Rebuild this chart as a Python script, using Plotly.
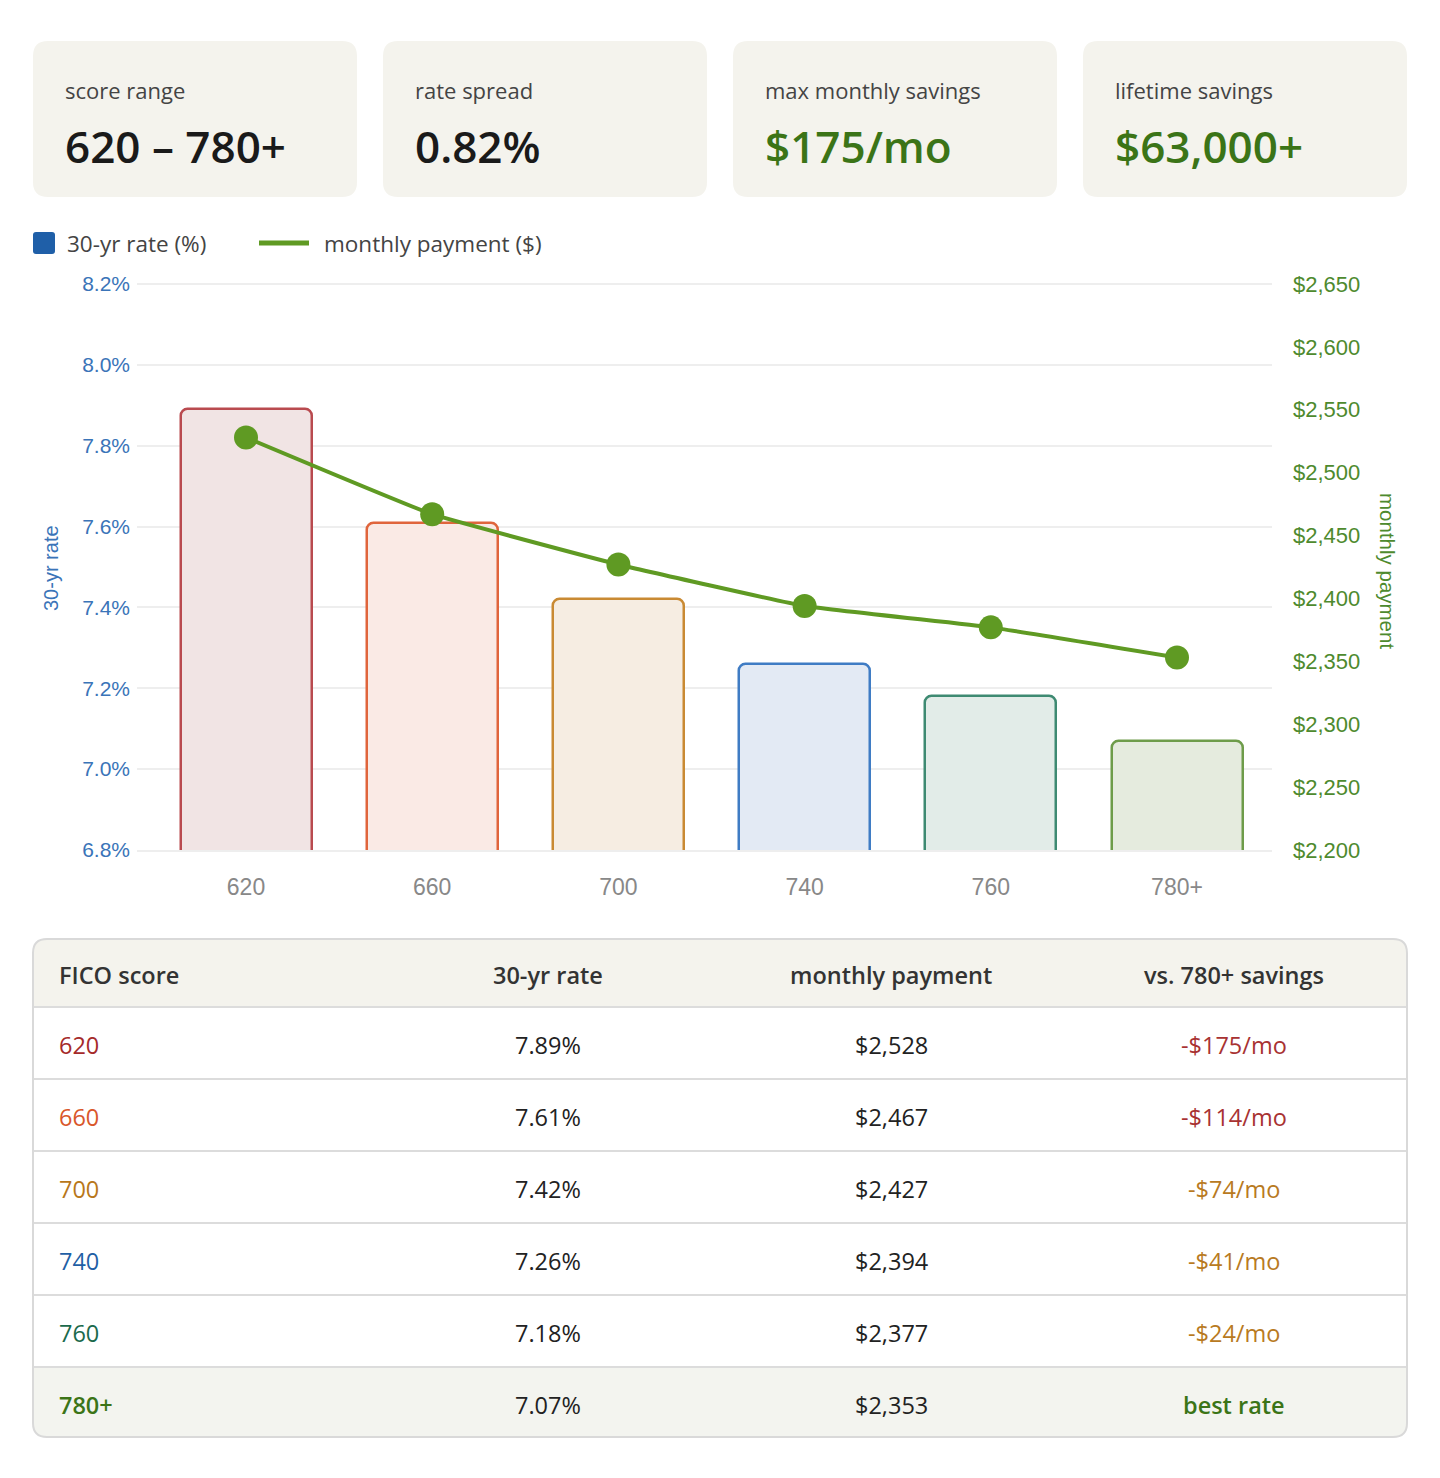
import plotly.graph_objects as go

W, H = 1440, 1478

# ---------------- data ----------------
scores = ["620", "660", "700", "740", "760", "780+"]
rates = [7.89, 7.61, 7.42, 7.26, 7.18, 7.07]
payments = [2528, 2467, 2427, 2394, 2377, 2353]
savings = ["-$175/mo", "-$114/mo", "-$74/mo", "-$41/mo", "-$24/mo", "best rate"]

rate_ticks = [6.8, 7.0, 7.2, 7.4, 7.6, 7.8, 8.0, 8.2]
pay_ticks = [2200, 2250, 2300, 2350, 2400, 2450, 2500, 2550, 2600, 2650]

card_labels = ["score range", "rate spread", "max monthly savings", "lifetime savings"]
card_values = ["620 – 780+", "0.82%", "$175/mo", "$63,000+"]

table_headers = ["FICO score", "30-yr rate", "monthly payment", "vs. 780+ savings"]

# ---------------- styles ----------------
bar_line_colors = ["#b94a4f", "#e0653c", "#c98a33", "#3f7cc4", "#3e8a72", "#6e9c4a"]
bar_fill_colors = ["#f1e4e4", "#faeae5", "#f6ede2", "#e3eaf4", "#e2ece8", "#e5ebde"]
score_text_colors = ["#a52a2a", "#d9572b", "#b8771a", "#1f5fa5", "#1b6a4c", "#3b7417"]
savings_colors = ["#a83232", "#a83232", "#b87a22", "#b87a22", "#b87a22", "#3b7417"]
card_value_colors = ["#1a1a1a", "#1a1a1a", "#3b7417", "#3b7417"]

UI_FONT = "Open Sans, Noto Sans, sans-serif"
CH_FONT = "Liberation Sans, Arial, sans-serif"
BLUE = "#3a74b8"
GREEN_AX = "#4e8a2e"
LINE_GREEN = "#5f9a23"
CARD_BG = "#f4f3ed"


def X(px):
    return px / W


def Y(py):
    return 1 - py / H


def rr_path(x0, y0, x1, y1, r, tl=True, tr=True, br=True, bl=True):
    """rounded rect path in pixel coordinates -> paper coordinates"""
    def p(x, y):
        return f"{X(x):.6f},{Y(y):.6f}"
    rtl = r if tl else 0
    rtr = r if tr else 0
    rbr = r if br else 0
    rbl = r if bl else 0
    d = f"M{p(x0 + rtl, y0)} L{p(x1 - rtr, y0)} "
    d += f"Q{p(x1, y0)} {p(x1, y0 + rtr)} " if rtr else ""
    d += f"L{p(x1, y1 - rbr)} "
    d += f"Q{p(x1, y1)} {p(x1 - rbr, y1)} " if rbr else ""
    d += f"L{p(x0 + rbl, y1)} "
    d += f"Q{p(x0, y1)} {p(x0, y1 - rbl)} " if rbl else ""
    d += f"L{p(x0, y0 + rtl)} "
    d += f"Q{p(x0, y0)} {p(x0 + rtl, y0)} " if rtl else ""
    d += "Z"
    return d


shapes = []
annotations = []


def text(px, py, s, size, color, anchor="left", weight=400, family=UI_FONT, angle=0):
    annotations.append(dict(
        x=X(px), y=Y(py), xref="paper", yref="paper", text=s, showarrow=False,
        xanchor=anchor, yanchor="middle", textangle=angle,
        font=dict(family=family, size=size, color=color, weight=weight),
    ))


# ---------------- cards ----------------
card_x = [33, 383, 733, 1083]
for i, cx in enumerate(card_x):
    shapes.append(dict(type="path", path=rr_path(cx, 41, cx + 324, 197, 15),
                       xref="paper", yref="paper", fillcolor=CARD_BG, line=dict(width=0),
                       layer="below"))
    text(cx + 30, 90, card_labels[i], 22, "#444444")
    text(cx + 30, 146, card_values[i], 44, card_value_colors[i], weight=600)

# ---------------- legend ----------------
shapes.append(dict(type="path", path=rr_path(33, 232, 55, 254, 3), xref="paper", yref="paper",
                   fillcolor="#1f5fa8", line=dict(width=0)))
text(65, 244, "30-yr rate (%)", 22.5, "#444444")
shapes.append(dict(type="line", x0=X(259), x1=X(309), y0=Y(243), y1=Y(243),
                   xref="paper", yref="paper", line=dict(color=LINE_GREEN, width=5)))
text(322, 244, "monthly payment ($)", 22.5, "#444444")

# ---------------- axis titles ----------------
text(51, 568, "30-yr rate", 20, BLUE, anchor="center", family=CH_FONT, angle=-90)
text(1387, 571, "monthly payment", 20.5, GREEN_AX, anchor="center", family=CH_FONT, angle=90)

# ---------------- table ----------------
TX0, TX1, TY0, TY1 = 33, 1407, 939, 1437
HDR_B = 1007
ROW_H = 72
shapes.append(dict(type="path", path=rr_path(TX0, TY0, TX1, HDR_B, 14, br=False, bl=False),
                   xref="paper", yref="paper", fillcolor=CARD_BG, line=dict(width=0)))
shapes.append(dict(type="path", path=rr_path(TX0, HDR_B + 5 * ROW_H, TX1, TY1, 14, tl=False, tr=False),
                   xref="paper", yref="paper", fillcolor="#f3f4ef", line=dict(width=0)))
for k in range(6):
    yy = HDR_B + k * ROW_H
    shapes.append(dict(type="line", x0=X(TX0), x1=X(TX1), y0=Y(yy), y1=Y(yy),
                       xref="paper", yref="paper", line=dict(color="#dcdcdc", width=2)))
shapes.append(dict(type="path", path=rr_path(TX0, TY0, TX1, TY1, 14),
                   xref="paper", yref="paper", fillcolor="rgba(0,0,0,0)",
                   line=dict(color="#d9d9d9", width=2)))

col_x = [58, 548, 891, 1234]
hy = (TY0 + HDR_B) / 2 + 2
text(col_x[0] - 1, hy, table_headers[0], 23.5, "#333333", weight=600)
for c in range(1, 4):
    text(col_x[c], hy, table_headers[c], 23.5, "#333333", anchor="center", weight=600)

for i in range(6):
    ry = HDR_B + i * ROW_H + ROW_H / 2 + 2
    text(col_x[0] - 1, ry, scores[i], 23.5, score_text_colors[i], weight=600 if i == 5 else 400)
    text(col_x[1], ry, f"{rates[i]:.2f}%", 23.5, "#222222", anchor="center")
    text(col_x[2], ry, f"${payments[i]:,}", 23.5, "#222222", anchor="center")
    text(col_x[3], ry, savings[i], 23.5, savings_colors[i], anchor="center",
         weight=600 if i == 5 else 400)

# ---------------- chart ----------------
PX0, PX1, PY0, PY1 = 137, 1272, 284, 850
EXTRA = 3  # px of headroom so the top gridline is drawn
c0, c5 = 246, 1177
unit = (c5 - c0) / 5
r0 = -(c0 - PX0) / unit
r1 = r0 + (PX1 - PX0) / unit
xs = list(range(len(scores)))

y_lo, y_hi = rate_ticks[0], rate_ticks[-1]
p_lo, p_hi = pay_ticks[0], pay_ticks[-1]
y_hi_ext = y_hi + EXTRA * (y_hi - y_lo) / (PY1 - PY0)
p_hi_ext = p_hi + EXTRA * (p_hi - p_lo) / (PY1 - PY0)

fig = go.Figure()
fig.add_trace(go.Bar(
    x=xs, y=rates, width=131 / unit,
    marker=dict(color=bar_fill_colors, line=dict(color=bar_line_colors, width=2.5),
                cornerradius=7),
    name="30-yr rate (%)", showlegend=False, yaxis="y",
))
fig.add_trace(go.Scatter(
    x=xs, y=payments, mode="lines+markers", yaxis="y2",
    line=dict(color=LINE_GREEN, width=4, shape="spline", smoothing=0.3),
    marker=dict(color=LINE_GREEN, size=24),
    name="monthly payment ($)", showlegend=False,
))

fig.update_layout(
    width=W, height=H, margin=dict(l=0, r=0, t=0, b=0, autoexpand=False),
    paper_bgcolor="white", plot_bgcolor="white",
    showlegend=False, bargap=0,
    xaxis=dict(domain=[X(PX0), X(PX1)], range=[r0, r1], tickvals=xs, ticktext=scores,
               automargin=False,
               showgrid=False, zeroline=False, showline=True, linecolor="#eeeeee",
               linewidth=1.5, layer="below traces",
               ticks="", ticklabelstandoff=16,
               tickfont=dict(family=CH_FONT, size=23, color="#888888")),
    yaxis=dict(domain=[Y(PY1), Y(PY0 - EXTRA)], range=[y_lo, y_hi_ext], tickvals=rate_ticks,
               ticktext=[f"{v:.1f}%" for v in rate_ticks], automargin=False,
               showgrid=True, gridcolor="#eeeeee", gridwidth=1.5, zeroline=False,
               showline=False, ticks="", ticklabelstandoff=6, layer="below traces",
               tickfont=dict(family=CH_FONT, size=21, color=BLUE)),
    yaxis2=dict(overlaying="y", side="right", range=[p_lo, p_hi_ext], tickvals=pay_ticks,
                ticktext=[f"${v:,}" for v in pay_ticks], automargin=False,
                showgrid=False, zeroline=False, showline=False, ticks="",
                ticklabelstandoff=20,
                tickfont=dict(family=CH_FONT, size=22, color=GREEN_AX)),
    shapes=shapes, annotations=annotations,
)

fig.write_html("out.html")
